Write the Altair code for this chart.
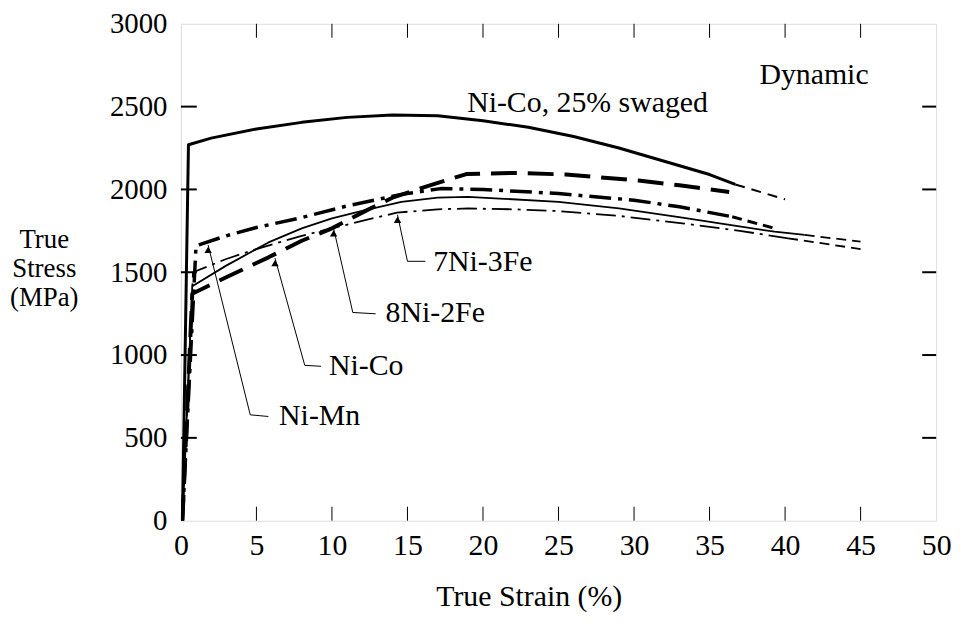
import altair as alt
import pandas as pd

# ---------------- data (strain %, true stress MPa) ----------------
swaged_x = [0.1, 0.5, 2, 5, 8, 11, 14, 17, 20, 23, 26, 29, 32, 35, 36.7]
swaged_y = [0, 2270, 2310, 2365, 2405, 2435, 2450, 2445, 2415, 2375, 2320, 2250, 2170, 2090, 2030]
swaged_tail_x = [36.7, 40]
swaged_tail_y = [2030, 1940]

nimn_x = [0.1, 1.0, 3, 5, 8, 11, 14.6, 17.2, 20, 25, 30, 33, 36.5]
nimn_y = [0, 1660, 1720, 1770, 1830, 1900, 1970, 2005, 2000, 1975, 1935, 1895, 1835]
nimn_tail_x = [36.5, 39.3]
nimn_tail_y = [1835, 1765]

nico_x = [0.1, 0.75, 3, 5.8, 8, 10, 12, 14, 16.8, 18.9, 22, 25.5, 30.3, 33, 36.3]
nico_y = [0, 1370, 1470, 1590, 1690, 1765, 1860, 1950, 2034, 2093, 2100, 2090, 2054, 2025, 1985]

ni8fe2_x = [0.1, 0.75, 3, 5.8, 8, 10, 12, 14.6, 17, 19, 21.1, 25, 29, 33.2, 36, 39.3, 41.3]
ni8fe2_y = [0, 1415, 1540, 1680, 1765, 1825, 1870, 1925, 1950, 1955, 1945, 1925, 1885, 1830, 1790, 1745, 1725]
ni8fe2_tail_x = [41.3, 45]
ni8fe2_tail_y = [1725, 1685]

ni7fe3_x = [0.1, 0.8, 3, 5, 8, 10, 12, 14.3, 17, 19, 22, 24.9, 29, 33.2, 37, 40.2]
ni7fe3_y = [0, 1500, 1580, 1640, 1720, 1765, 1810, 1860, 1880, 1885, 1880, 1870, 1840, 1795, 1750, 1705]
ni7fe3_tail_x = [40.2, 45]
ni7fe3_tail_y = [1705, 1640]

x_ticks = [0, 5, 10, 15, 20, 25, 30, 35, 40, 45, 50]
y_ticks = [0, 500, 1000, 1500, 2000, 2500, 3000]

# annotation leaders: tip, bend, end (strain, stress) and label anchors
labels = ["7Ni-3Fe", "8Ni-2Fe", "Ni-Co", "Ni-Mn"]
leader_x = [[14.34, 15.0, 16.18], [10.11, 11.38, 12.89], [6.23, 8.2, 9.28], [1.8, 4.59, 5.79]]
leader_y = [[1847, 1566, 1566], [1765, 1257, 1249], [1585, 938, 932], [1665, 639, 629]]
label_x = [16.7, 13.55, 9.8, 6.5]
label_y = [1560, 1252, 932, 633]

notes = ["Ni-Co, 25% swaged", "Dynamic"]
notes_x = [18.95, 38.3]
notes_y = [2522, 2689]

FONT = "Liberation Serif"
FS = 30
W, H = 760, 500

X = alt.X("strain:Q", scale=alt.Scale(domain=[0, 50], nice=False, zero=False),
          axis=alt.Axis(values=x_ticks, format="d", ticks=False, domain=False, grid=False,
                        labelPadding=10, labelFlush=False,
                        title="True Strain (%)",
                        titleX=350, titleY=76, titleBaseline="middle"))
Y = alt.Y("stress:Q", scale=alt.Scale(domain=[0, 3000], nice=False),
          axis=alt.Axis(values=y_ticks, format="d", ticks=False, domain=False, grid=False,
                        labelPadding=14, labelFlush=False, labelFontSize=29,
                        title=["True", "Stress", "(MPa)"], titleAngle=0, titleFontSize=27,
                        titleAlign="center", titleBaseline="top", titleLineHeight=29,
                        titleX=-138, titleY=204))


def line(xs, ys, width, dash=None):
    df = pd.DataFrame({"strain": xs, "stress": ys})
    kw = dict(color="black", strokeWidth=width, strokeCap="butt", strokeJoin="round", clip=True)
    if dash:
        kw["strokeDash"] = dash
    return alt.Chart(df).mark_line(**kw).encode(x=X, y=Y)


layers = [
    line(swaged_x, swaged_y, 3.0),
    line(swaged_tail_x, swaged_tail_y, 2.0, [10, 7]),
    line(nimn_x, nimn_y, 3.5, [22, 7, 4, 7]),
    line(nimn_tail_x, nimn_tail_y, 3.0, [10, 6]),
    line(nico_x, nico_y, 4.0, [26, 11]),
    line(ni8fe2_x, ni8fe2_y, 1.8),
    line(ni8fe2_tail_x, ni8fe2_tail_y, 1.8, [10, 6]),
    line(ni7fe3_x, ni7fe3_y, 1.8, [20, 6, 3, 6]),
    line(ni7fe3_tail_x, ni7fe3_tail_y, 1.8, [10, 6]),
]

for lx, ly in zip(leader_x, leader_y):
    layers.append(line(lx, ly, 1.0))

tips = pd.DataFrame({"strain": [lx[0] for lx in leader_x], "stress": [ly[0] for ly in leader_y]})
layers.append(alt.Chart(tips).mark_point(shape="triangle-up", filled=True, color="black",
                                         size=55, opacity=1, yOffset=5).encode(x=X, y=Y))

lab_df = pd.DataFrame({"strain": label_x, "stress": label_y, "t": labels})
layers.append(alt.Chart(lab_df).mark_text(font=FONT, fontSize=FS, align="left", baseline="middle",
                                          color="black").encode(x=X, y=Y, text="t:N"))
note_df = pd.DataFrame({"strain": notes_x, "stress": notes_y, "t": notes})
layers.append(alt.Chart(note_df).mark_text(font=FONT, fontSize=FS, align="left", baseline="middle",
                                           color="black").encode(x=X, y=Y, text="t:N"))

# inner ticks on all four sides
xt = pd.DataFrame({"strain": x_ticks[1:-1]})
yt = pd.DataFrame({"stress": y_ticks[1:-1]})
layers.append(alt.Chart(xt).mark_rule(color="black", strokeWidth=1).encode(x=X, y=alt.value(H), y2=alt.value(H - 14)))
layers.append(alt.Chart(xt).mark_rule(color="black", strokeWidth=1).encode(x=X, y=alt.value(0), y2=alt.value(14)))
layers.append(alt.Chart(yt).mark_rule(color="black", strokeWidth=2).encode(y=Y, x=alt.value(0), x2=alt.value(16)))
layers.append(alt.Chart(yt).mark_rule(color="black", strokeWidth=2).encode(y=Y, x=alt.value(W), x2=alt.value(W - 14)))

chart = alt.layer(*layers).properties(
    width=W, height=H,
    padding={"left": 174, "top": 14, "right": 20, "bottom": 90},
    autosize=alt.AutoSizeParams(type="none"),
).configure_view(stroke="black", strokeWidth=2.5).configure(
    background="white", font=FONT
).configure_axis(
    labelFont=FONT, labelFontSize=FS, labelColor="black",
    titleFont=FONT, titleFontSize=FS, titleFontWeight="normal", titleColor="black",
)

chart.save("out.html", embed_options={"renderer": "svg", "actions": False})
